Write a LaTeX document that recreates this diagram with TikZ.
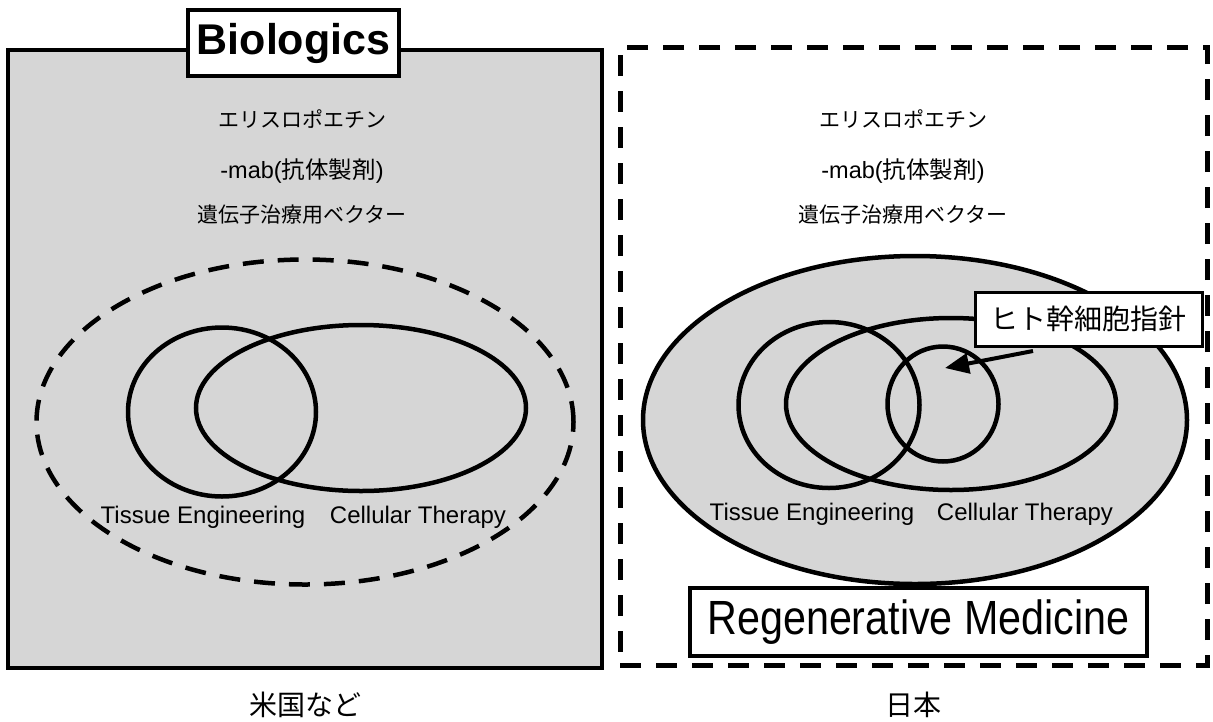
\documentclass[tikz,border=0pt]{standalone}
\usepackage{fontspec}
\setmainfont{Liberation Sans}
\newfontfamily\cjk{Noto Sans CJK JP}
\newfontfamily\regfont[FakeStretch=0.86]{Liberation Sans}
\usetikzlibrary{shapes.geometric,arrows.meta}
\begin{document}
\begin{tikzpicture}[x=1pt,y=-1pt,
  panelbox/.style={draw, line width=4pt, inner sep=0pt, outer sep=0pt},
  dashline/.style={draw, line width=5pt, dash pattern=on 21pt off 15pt, inner sep=0pt, outer sep=0pt},
  vring/.style={ellipse, draw, line width=4.5pt, inner sep=0pt, outer sep=0pt},
  shadefill/.style={fill=black!16},
  jtext/.style={font=\cjk\fontsize{21}{25}\selectfont, inner sep=0pt},
  ltext/.style={font=\fontsize{23.5}{27}\selectfont, inner sep=0pt},
  venntext/.style={font=\fontsize{24}{28}\selectfont, inner sep=0pt, anchor=base},
  captext/.style={font=\cjk\fontsize{28}{32}\selectfont, inner sep=0pt},
  labelbox/.style={draw, fill=white, inner sep=0pt, outer sep=0pt}
]
\fill[white] (0,0) rectangle (1213,721);
\path[use as bounding box] (0,0) rectangle (1213,721);

% ---------------- left panel ----------------
\node[panelbox, shadefill, minimum width=594pt, minimum height=618pt] (leftpanel) at (305,359) {};
\node[labelbox, line width=4.5pt, minimum width=211pt, minimum height=66pt,
      font=\bfseries\fontsize{43}{48}\selectfont] (biologics) at (293.5,43) {Biologics};

\node[jtext] (lepo) at (302,119) {エリスロポエチン};
\node[ltext] (lmab) at (302,171) {-mab({\cjk 抗体製剤})};
\node[jtext] (lvec) at (302,215) {遺伝子治療用ベクター};

\node[vring, dash pattern=on 21pt off 14pt, minimum width=537pt, minimum height=325pt] (ldash) at (305,422) {};
\node[vring, minimum width=188pt, minimum height=169pt] (ltissue) at (222,412) {};
\node[vring, minimum width=330pt, minimum height=166pt] (lcell) at (361,408) {};
\node[venntext] (ltlabel) at (203,523) {Tissue Engineering};
\node[venntext] (lclabel) at (418,523) {Cellular Therapy};

\node[captext] (usa) at (305,705) {米国など};

% ---------------- right panel ----------------
\node[dashline, minimum width=587pt, minimum height=618pt] (rightpanel) at (913.5,356) {};

\node[jtext] (repo) at (903,119) {エリスロポエチン};
\node[ltext] (rmab) at (903,171) {-mab({\cjk 抗体製剤})};
\node[jtext] (rvec) at (903,215) {遺伝子治療用ベクター};

\node[vring, shadefill, minimum width=544pt, minimum height=328pt] (regen) at (915,420) {};
\node[vring, minimum width=181pt, minimum height=166pt] (rtissue) at (829,405) {};
\node[vring, minimum width=330pt, minimum height=172pt] (rcell) at (951,404) {};
\node[vring, minimum width=111pt, minimum height=115pt] (stem) at (943,404) {};
\node[venntext] (rtlabel) at (812,520) {Tissue Engineering};
\node[venntext] (rclabel) at (1025,520) {Cellular Therapy};

\node[labelbox, line width=3pt, minimum width=227pt, minimum height=54pt,
      font=\cjk\fontsize{28}{32}\selectfont] (guide) at (1088.5,319) {ヒト幹細胞指針};
\coordinate (arrowtail) at (1033,351);
\coordinate (arrowtip) at (945,368);
\draw[line width=4pt, -{Triangle[length=24pt,width=20pt]}] (arrowtail) -- (arrowtip);

\node[labelbox, line width=4pt, minimum width=457pt, minimum height=68pt,
      font=\regfont\fontsize{48}{52}\selectfont] (regmed) at (918.5,622) {Regenerative Medicine};

\node[captext] (japan) at (913,705) {日本};
\end{tikzpicture}
\end{document}
